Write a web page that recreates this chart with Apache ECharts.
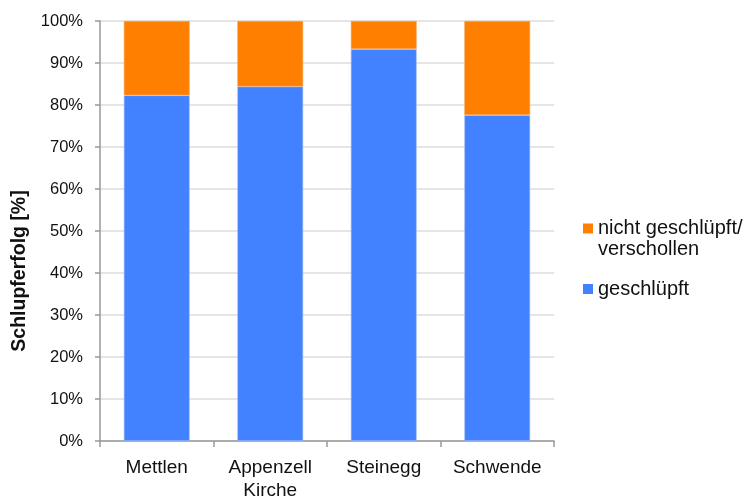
<!DOCTYPE html>
<html>
<head>
<meta charset="utf-8">
<script src="https://cdn.jsdelivr.net/npm/echarts@6/dist/echarts.min.js"></script>
<style>
  html, body { margin: 0; padding: 0; background: #fff; }
  #chart { width: 750px; height: 499px; }
</style>
</head>
<body>
<div id="chart"></div>
<script>
// Hatching success per site, in percent
const sites = ['Mettlen', 'Appenzell\nKirche', 'Steinegg', 'Schwende'];
const hatched = [82.3, 84.4, 93.3, 77.6];
const notHatched = [17.7, 15.6, 6.7, 22.4];
const yTicks = [0, 10, 20, 30, 40, 50, 60, 70, 80, 90, 100];

const FONT = '"Liberation Sans", Arial, sans-serif';
const chart = echarts.init(document.getElementById('chart'));

const legendBase = {
  padding: 0,
  itemWidth: 10, itemHeight: 10, itemGap: 5,
  icon: 'rect',
  itemStyle: { borderWidth: 0 }
};

chart.setOption({
  animation: false,
  grid: { left: 100, right: 196, top: 21, bottom: 58, containLabel: false, outerBoundsMode: 'none' },
  legend: [
    Object.assign({}, legendBase, {
      data: ['nicht geschlüpft/\nverschollen'],
      left: 583, top: 197,
      textStyle: { fontFamily: FONT, fontSize: 20, color: '#111', lineHeight: 21 },
      // empty leading line keeps the first text line level with the swatch
      formatter: name => '\n' + name
    }),
    Object.assign({}, legendBase, {
      data: ['geschlüpft'],
      left: 583, top: 278,
      textStyle: { fontFamily: FONT, fontSize: 20, color: '#111', lineHeight: 22 }
    })
  ],
  xAxis: {
    type: 'category',
    data: sites,
    axisLine: { lineStyle: { color: '#999', width: 1.5 } },
    axisTick: { show: true, interval: 0, length: 6, lineStyle: { color: '#999', width: 1.5 } },
    axisLabel: { interval: 0, fontFamily: FONT, fontSize: 19, color: '#111', margin: 15, lineHeight: 23 }
  },
  yAxis: {
    type: 'value',
    min: 0, max: 100, interval: 10,
    name: 'Schlupferfolg [%]',
    nameLocation: 'middle',
    nameGap: 66,
    nameTextStyle: {
      fontFamily: FONT, fontSize: 19.5, fontWeight: 'bold', color: '#111',
      padding: [0, 80, 0, 0]
    },
    axisLine: { show: true, lineStyle: { color: '#999', width: 1.5 } },
    axisTick: { show: true, length: 5, lineStyle: { color: '#999', width: 1.5 } },
    axisLabel: {
      fontFamily: FONT, fontSize: 16.5, color: '#111', margin: 17,
      formatter: v => yTicks.includes(v) ? v + '%' : ''
    },
    splitLine: { lineStyle: { color: '#dcdcdc', width: 1.5 } }
  },
  series: [
    {
      name: 'geschlüpft',
      type: 'bar',
      stack: 'total',
      barWidth: '58%',
      data: hatched,
      itemStyle: { color: '#4281ff', borderColor: '#a9c3f5', borderWidth: 0.6 }
    },
    {
      name: 'nicht geschlüpft/\nverschollen',
      type: 'bar',
      stack: 'total',
      barWidth: '58%',
      data: notHatched,
      itemStyle: { color: '#ff7f00', borderColor: '#f7a860', borderWidth: 0.6 }
    }
  ]
});
</script>
</body>
</html>
